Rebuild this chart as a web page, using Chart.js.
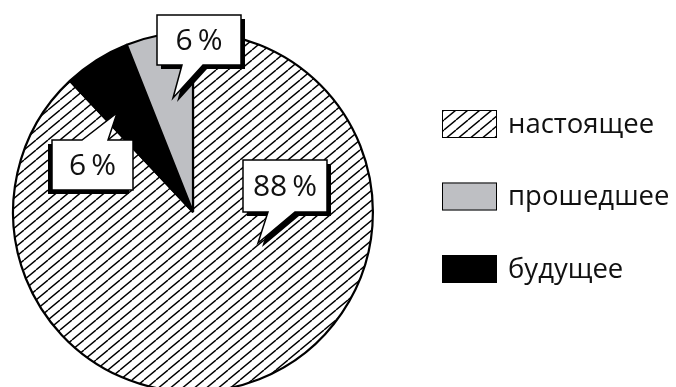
<!DOCTYPE html>
<html>
<head>
<meta charset="utf-8">
<script src="https://cdn.jsdelivr.net/npm/chart.js@4/dist/chart.umd.min.js"></script>
<style>
  html, body { margin: 0; padding: 0; background: #fff; overflow: hidden; }
  #wrap { width: 676px; height: 400px; }
</style>
</head>
<body>
<div id="wrap"><canvas id="c" width="676" height="400"></canvas></div>
<script>
// Slices in drawing order, clockwise from 12 o'clock
const categories = ['настоящее', 'будущее', 'прошедшее'];
const shares = [88, 6, 6];
// Order of entries in the key
const legendOrder = ['настоящее', 'прошедшее', 'будущее'];

// Diagonal hatching used for the "настоящее" slice
function makeHatch() {
  const w = 12, h = 10;
  const t = document.createElement('canvas');
  t.width = w; t.height = h;
  const g = t.getContext('2d');
  g.fillStyle = '#fff';
  g.fillRect(0, 0, w, h);
  g.strokeStyle = '#000';
  g.lineWidth = 1.4;
  g.beginPath();
  // main stroke plus the two wrapped ends so tiles join seamlessly
  g.moveTo(0, h); g.lineTo(w, 0);
  g.moveTo(-w, h); g.lineTo(0, 0);
  g.moveTo(w, h); g.lineTo(2 * w, 0);
  g.stroke();
  return g.createPattern(t, 'repeat');
}
const fills = [makeHatch(), '#000000', '#bebfc3'];

// Speech-bubble labels, placed relative to the pie centre (px):
// box = [dx, dy, w, h]; tail sits on one edge between `from`..`to` and points to `tip`
const callouts = [
  { box: [50, -52, 84, 52],   tail: { edge: 'bottom', from: 75,   to: 102, tip: [65, 31] },   shadow: [4, 4] },
  { box: [-141, -72, 81, 50], tail: { edge: 'top',    from: -111, to: -85, tip: [-76, -99] }, shadow: [-4, 4] },
  { box: [-36, -197, 84, 50], tail: { edge: 'bottom', from: -11,  to: 10,  tip: [-20, -114] }, shadow: [4, 4] }
];

function bubblePath(ctx, cx, cy, c, ox, oy) {
  const [dx, dy, w, h] = c.box;
  const x0 = cx + dx + ox, y0 = cy + dy + oy, x1 = x0 + w, y1 = y0 + h;
  const t = c.tail;
  const f = cx + t.from + ox, g = cx + t.to + ox;
  const tx = cx + t.tip[0] + ox, ty = cy + t.tip[1] + oy;
  ctx.beginPath();
  if (t.edge === 'bottom') {
    ctx.moveTo(x0, y0); ctx.lineTo(x1, y0); ctx.lineTo(x1, y1);
    ctx.lineTo(g, y1); ctx.lineTo(tx, ty); ctx.lineTo(f, y1);
    ctx.lineTo(x0, y1);
  } else {
    ctx.moveTo(x0, y0); ctx.lineTo(f, y0); ctx.lineTo(tx, ty); ctx.lineTo(g, y0);
    ctx.lineTo(x1, y0); ctx.lineTo(x1, y1); ctx.lineTo(x0, y1);
  }
  ctx.closePath();
}

const calloutPlugin = {
  id: 'callouts',
  afterDatasetsDraw(chart) {
    const ctx = chart.ctx;
    const arc = chart.getDatasetMeta(0).data[0];
    const cx = arc.x, cy = arc.y;
    const values = chart.data.datasets[0].data;
    ctx.save();
    callouts.forEach((c, i) => {
      bubblePath(ctx, cx, cy, c, c.shadow[0], c.shadow[1]);
      ctx.fillStyle = '#000';
      ctx.fill();
      bubblePath(ctx, cx, cy, c, 0, 0);
      ctx.fillStyle = '#fff';
      ctx.fill();
      ctx.lineWidth = 1.5;
      ctx.strokeStyle = '#000';
      ctx.lineJoin = 'miter';
      ctx.stroke();
      const [dx, dy, w, h] = c.box;
      ctx.fillStyle = '#111';
      ctx.font = '30px "Open Sans", sans-serif';
      ctx.textAlign = 'center';
      ctx.textBaseline = 'middle';
      ctx.fillText(values[i] + '\u2009%', cx + dx + w / 2, cy + dy + h / 2 + 1);
    });
    ctx.restore();
  }
};

const keyPlugin = {
  id: 'key',
  afterDraw(chart) {
    const ctx = chart.ctx;
    const ds = chart.data.datasets[0];
    ctx.save();
    legendOrder.forEach((name, k) => {
      const i = chart.data.labels.indexOf(name);
      const x = 442, y = 110 + k * 72.5, w = 55, h = 28;
      ctx.fillStyle = ds.backgroundColor[i];
      ctx.fillRect(x, y, w, h);
      ctx.lineWidth = 1;
      ctx.strokeStyle = '#000';
      ctx.strokeRect(x + 0.5, y + 0.5, w - 1, h - 1);
      ctx.fillStyle = '#111';
      ctx.font = '27.5px "Open Sans", sans-serif';
      ctx.textAlign = 'left';
      ctx.textBaseline = 'middle';
      ctx.fillText(name, 508, y + h / 2 + 1);
    });
    ctx.restore();
  }
};

new Chart(document.getElementById('c'), {
  type: 'pie',
  data: {
    labels: categories,
    datasets: [{
      data: shares,
      backgroundColor: fills,
      borderColor: '#000',
      borderWidth: 2.2,
      hoverOffset: 0,
      offset: 0
    }]
  },
  options: {
    responsive: false,
    animation: false,
    events: [],
    layout: { padding: { left: 12, top: 31, right: 302, bottom: 7 } },
    plugins: { legend: { display: false }, tooltip: { enabled: false } }
  },
  plugins: [calloutPlugin, keyPlugin]
});
</script>
</body>
</html>
